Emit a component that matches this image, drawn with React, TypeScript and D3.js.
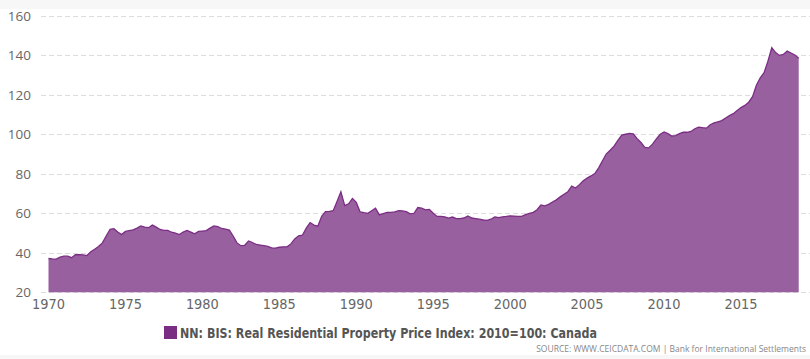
import React from "react";
import * as d3 from "d3";

const startYear = 1970;
const values: number[] = [
  37.1, 36.9, 36.8, 37.8,
  38.3, 38.3, 37.5, 39.0,
  39.1, 38.9, 38.6, 40.5,
  41.8, 43.2, 45.0, 48.5,
  51.9, 52.2, 50.5, 49.2,
  50.8, 51.2, 51.6, 52.5,
  53.6, 53.0, 52.7, 54.0,
  53.0, 51.8, 51.3, 51.3,
  50.4, 50.0, 49.2, 50.5,
  51.3, 50.5, 49.6, 50.8,
  51.0, 51.2, 52.5, 53.6,
  53.3, 52.3, 52.0, 51.5,
  48.5, 45.0, 43.6, 43.8,
  46.0, 45.2, 44.2, 43.9,
  43.6, 43.2, 42.5, 42.4,
  42.8, 43.0, 43.0, 44.5,
  47.0, 48.6, 48.9, 52.5,
  55.3, 54.0, 53.5, 58.5,
  60.8, 61.0, 61.3, 66.0,
  70.9, 63.9, 64.8, 67.5,
  65.5, 60.7, 60.3, 60.0,
  61.3, 62.6, 59.2, 59.8,
  60.4, 60.5, 60.7, 61.3,
  61.2, 60.8, 59.7, 60.0,
  62.9, 62.6, 61.7, 62.0,
  60.0, 58.4, 58.4, 58.2,
  57.6, 58.1, 57.3, 57.3,
  57.6, 58.6, 57.6, 57.3,
  57.0, 56.6, 56.4, 57.0,
  58.2, 57.8, 58.2, 58.4,
  58.7, 58.6, 58.4, 58.4,
  59.3, 59.9, 60.5, 61.8,
  64.2, 63.8, 64.5, 65.7,
  66.8, 68.3, 69.6, 70.9,
  73.8, 72.8, 74.5, 76.5,
  77.8, 78.9, 80.1, 83.0,
  86.6, 90.1, 91.9, 94.0,
  96.9, 99.6, 100.0, 100.4,
  100.2, 97.8, 95.8, 93.3,
  93.1, 95.0, 97.6, 100.0,
  101.2, 100.3, 99.1, 99.3,
  100.3, 101.0, 101.0, 101.4,
  102.8, 103.6, 103.3, 103.1,
  104.8, 105.7, 106.3, 106.9,
  108.2, 109.4, 110.4, 112.0,
  113.5, 114.6, 116.2, 119.0,
  124.8, 128.6, 131.2, 137.0,
  143.8, 141.3, 139.9, 140.4,
  142.1, 141.1, 140.1, 138.5,
];
const yTicks = [20, 40, 60, 80, 100, 120, 140, 160];
const xTicks = [1970, 1975, 1980, 1985, 1990, 1995, 2000, 2005, 2010, 2015];
const seriesName = "NN: BIS: Real Residential Property Price Index: 2010=100: Canada";
const sourceText = "SOURCE: WWW.CEICDATA.COM | Bank for International Settlements";

const W = 810;
const H = 359;

export default function App() {
  const data = values.map((v, i) => ({ t: startYear + i / 4, v }));
  const x = d3.scaleLinear().domain([1970, 2015]).range([48.5, 741]);
  const y = d3.scaleLinear().domain([20, 160]).range([292.3, 15.7]);
  const area = d3
    .area<{ t: number; v: number }>()
    .x((d) => x(d.t))
    .y0(y(20))
    .y1((d) => y(d.v));
  const line = d3
    .line<{ t: number; v: number }>()
    .x((d) => x(d.t))
    .y((d) => y(d.v));

  return (
    <svg
      width={W}
      height={H}
      style={{ position: "absolute", left: 0, top: 0, background: "#fff" }}
    >
      <rect x={0} y={0} width={W} height={9} fill="#f7f7f7" />
      <rect x={0} y={355} width={W} height={4} fill="#f7f7f7" />
      {yTicks.map((t) => (
        <g key={t}>
          <line
            x1={41}
            x2={810}
            y1={Math.round(y(t)) + 0.5}
            y2={Math.round(y(t)) + 0.5}
            stroke="#dcdcdc"
            strokeWidth={1}
            strokeDasharray="5,3"
          />
          <text
            x={31}
            y={y(t) + 5}
            textAnchor="end"
            fontFamily="'Open Sans', 'DejaVu Sans', sans-serif"
            fontSize={13.5}
            fill="#666"
          >
            {t}
          </text>
        </g>
      ))}
      <path d={area(data) || ""} fill="#9960a0" />
      <path d={line(data) || ""} fill="none" stroke="#7b2d84" strokeWidth={1.3} />
      {xTicks.map((t) => (
        <text
          key={t}
          x={x(t)}
          y={309}
          textAnchor="middle"
          fontFamily="'DejaVu Sans', sans-serif"
          fontSize={14}
          fill="#666"
          textLength={33}
          lengthAdjust="spacingAndGlyphs"
        >
          {t}
        </text>
      ))}
      <rect x={164} y={326} width={13} height={13} fill="#7b2d84" />
      <text
        x={180}
        y={338}
        fontFamily="'DejaVu Sans', sans-serif"
        fontWeight="bold"
        fontSize={14}
        fill="#555"
        textLength={417}
        lengthAdjust="spacingAndGlyphs"
      >
        {seriesName}
      </text>
      <text
        x={806}
        y={352}
        textAnchor="end"
        fontFamily="'Open Sans', 'DejaVu Sans', sans-serif"
        fontSize={8.5}
        fill="#888"
      >
        {sourceText}
      </text>
    </svg>
  );
}
